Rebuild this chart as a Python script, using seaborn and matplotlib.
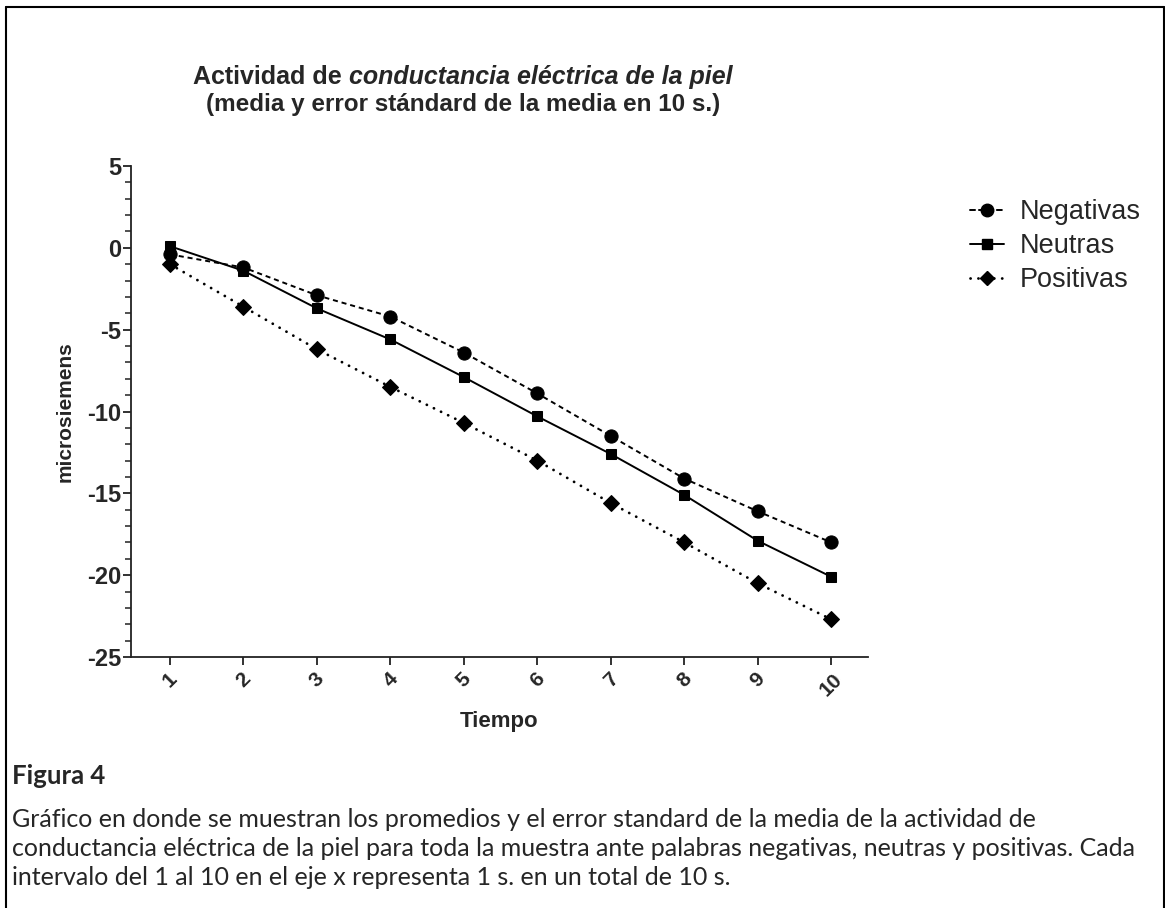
import numpy as np
import pandas as pd
import matplotlib
matplotlib.use("Agg")
import matplotlib.pyplot as plt
from matplotlib.lines import Line2D
from matplotlib.ticker import MultipleLocator
import seaborn as sns

# Mean skin conductance (microsiemens) per second, by word valence
tiempo = [1, 2, 3, 4, 5, 6, 7, 8, 9, 10]
negativas = [-0.4, -1.2, -2.9, -4.2, -6.4, -8.9, -11.5, -14.1, -16.1, -18.0]
neutras = [0.1, -1.4, -3.7, -5.6, -7.9, -10.3, -12.6, -15.1, -17.9, -20.1]
positivas = [-1.0, -3.6, -6.2, -8.5, -10.7, -13.0, -15.6, -18.0, -20.5, -22.7]
series_names = ["Negativas", "Neutras", "Positivas"]
y_ticks = [5, 0, -5, -10, -15, -20, -25]

df = pd.DataFrame({
    "Tiempo": tiempo * 3,
    "microsiemens": negativas + neutras + positivas,
    "Condición": [series_names[0]] * 10 + [series_names[1]] * 10 + [series_names[2]] * 10,
})

sns.set_style("ticks")
plt.rcParams["font.family"] = ["Liberation Sans", "DejaVu Sans"]

W, H = 1165, 908
fig = plt.figure(figsize=(W / 100, H / 100), dpi=100)
ax = fig.add_axes([131 / W, 1 - 657 / H, (868 - 131) / W, (657 - 166) / H])

LW = 1.4
markers = {"Negativas": "o", "Neutras": "s", "Positivas": "D"}
dashes = {"Negativas": (2.6, 2.0), "Neutras": "", "Positivas": (0.05, 4.0)}
msizes = {"Negativas": 9.5, "Neutras": 7, "Positivas": 8}
palette = {n: "black" for n in series_names}

sns.lineplot(data=df, x="Tiempo", y="microsiemens", hue="Condición",
             style="Condición", markers=markers, dashes=dashes,
             palette=palette, linewidth=LW, markersize=9,
             markeredgecolor="black", ax=ax, legend=False)
for line, name in zip(ax.get_lines(), series_names):
    line.set_markersize(msizes[name])
    if name == "Positivas":
        line.set_dash_capstyle("round")
        line.set_linewidth(2.0)
        line.set_dashes((0.05, 2.8))

ax.set_xlim(0.47, 10.5)
ax.set_ylim(-25, 5)
ax.set_yticks(y_ticks)
ax.yaxis.set_minor_locator(MultipleLocator(1))
ax.set_xticks(tiempo)
ax.set_xticklabels([str(t) for t in tiempo], rotation=45, ha="center",
                   fontsize=15, fontweight="bold")
ax.set_yticklabels([str(v) for v in y_ticks], fontsize=17, fontweight="bold")

for side in ["top", "right"]:
    ax.spines[side].set_visible(False)
for side in ["left", "bottom"]:
    ax.spines[side].set_linewidth(1.3)
    ax.spines[side].set_color("#222222")
ax.tick_params(axis="both", which="major", length=6, width=1.3, color="#222222")
ax.tick_params(axis="y", which="major", pad=1)
ax.tick_params(axis="x", which="major", pad=3)
ax.tick_params(axis="y", which="minor", length=4, width=1.1, color="#222222")
ax.tick_params(axis="x", which="minor", length=0)

ax.set_xlabel("Tiempo", fontsize=16, fontweight="bold", labelpad=8)
ax.set_ylabel("microsiemens", fontsize=15, fontweight="bold", labelpad=9)

# Title, with the measure name in italics
t1 = fig.text(0, 0, "Actividad de ", fontsize=18, fontweight="bold")
t2 = fig.text(0, 0, "conductancia eléctrica de la piel", fontsize=18,
              fontweight="bold", style="italic")
fig.canvas.draw()
r = fig.canvas.get_renderer()
w1 = t1.get_window_extent(r).width
w2 = t2.get_window_extent(r).width
x0 = 463 - (w1 + w2) / 2
t1.set_position((x0 / W, 1 - 84 / H))
t2.set_position(((x0 + w1) / W, 1 - 84 / H))
fig.text(463 / W, 1 - 111 / H, "(media y error stándard de la media en 10 s.)",
         fontsize=17.5, fontweight="bold", ha="center")

# Legend
handles = []
for name in series_names:
    ls = {"Negativas": (0, (2.6, 2.0)), "Neutras": "-", "Positivas": (0, (0.05, 2.8))}[name]
    lw = 2.0 if name == "Positivas" else LW
    h = Line2D([], [], color="black", linestyle=ls, linewidth=lw,
               marker=markers[name], markersize=msizes[name] - 0.5,
               dash_capstyle="round")
    handles.append(h)
fig.legend(handles, series_names, loc="upper left",
           bbox_to_anchor=(970 / W, 1 - 199 / H), frameon=False,
           fontsize=19.5, handlelength=1.25, handletextpad=0.6, labelspacing=0.3,
           borderpad=0, borderaxespad=0)

# Caption
fig.text(12 / W, 1 - 784 / H, "Figura 4", fontsize=18.5, fontweight="bold",
         family=["Lato", "DejaVu Sans"])
caption = [
    "Gráfico en donde se muestran los promedios y el error standard de la media de la actividad de",
    "conductancia eléctrica de la piel para toda la muestra ante palabras negativas, neutras y positivas. Cada",
    "intervalo del 1 al 10 en el eje x representa 1 s. en un total de 10 s.",
]
for i, line in enumerate(caption):
    fig.text(12 / W, 1 - (827 + 29 * i) / H, line, fontsize=18,
             family=["Lato", "DejaVu Sans"])

# Frame around the figure
for xs, ys in [([5.5, 5.5], [0, H - 6.5]), ([5.5, 1163.5], [H - 6.5, H - 6.5]),
               ([1163.5, 1163.5], [0, H - 6.5])]:
    fig.add_artist(Line2D([x / W for x in xs], [y / H for y in ys],
                          transform=fig.transFigure, color="black", linewidth=1.5))

fig.savefig("out.png", dpi=100)
